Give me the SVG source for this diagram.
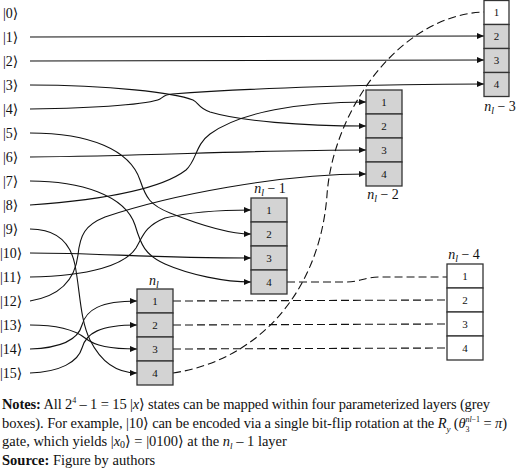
<svg xmlns="http://www.w3.org/2000/svg" width="520" height="472" viewBox="0 0 520 472">
<style>
.lbl{font-family:"Liberation Serif","DejaVu Serif",serif;font-size:14px;fill:#111}
.cell{stroke:#333;stroke-width:1.3}
.g{fill:#d3d3d3}
.w{fill:#fff}
.num{font-family:"Liberation Serif","DejaVu Serif",serif;font-size:11px;fill:#111;text-anchor:middle}
.ttl{font-family:"Liberation Serif","DejaVu Serif",serif;font-size:14px;fill:#111;text-anchor:middle}
.it{font-style:italic}
.c{fill:none;stroke:#111;stroke-width:1.1}
.a{marker-end:url(#arr)}
.d{fill:none;stroke:#111;stroke-width:1.1;stroke-dasharray:8 4}
.note{font-family:"Liberation Serif","DejaVu Serif",serif;font-size:14.5px;fill:#111}
.b{font-weight:bold}
</style>
<defs>
<marker id="arr" markerUnits="userSpaceOnUse" markerWidth="7" markerHeight="6" refX="7" refY="3" orient="auto">
<path d="M0,0 L7,3 L0,6 z" fill="#111"/>
</marker>
</defs>
<rect width="520" height="472" fill="#fff"/>
<g id="labels">
<text class="lbl" x="3" y="18">|0⟩</text>
<text class="lbl" x="3" y="42">|1⟩</text>
<text class="lbl" x="3" y="66">|2⟩</text>
<text class="lbl" x="3" y="90">|3⟩</text>
<text class="lbl" x="3" y="114">|4⟩</text>
<text class="lbl" x="3" y="138">|5⟩</text>
<text class="lbl" x="3" y="162">|6⟩</text>
<text class="lbl" x="3" y="186">|7⟩</text>
<text class="lbl" x="3" y="210">|8⟩</text>
<text class="lbl" x="3" y="234">|9⟩</text>
<text class="lbl" x="0" y="258">|10⟩</text>
<text class="lbl" x="0" y="282">|11⟩</text>
<text class="lbl" x="0" y="306">|12⟩</text>
<text class="lbl" x="0" y="330">|13⟩</text>
<text class="lbl" x="0" y="354">|14⟩</text>
<text class="lbl" x="0" y="378">|15⟩</text>
</g>
<g id="connectors">
<path class="c a" d="M30,37 L484,36"/>
<path class="c a" d="M30,61 L484,60"/>
<path class="c a" d="M30,85 C110,85 175,93 193,100 C199,103 198,108 210,112 C240,121 300,126 366,126"/>
<path class="c a" d="M30,109 C100,108 150,104 160,99 C164,97 163,95 172,94 C250,88 380,84 484,84"/>
<path class="c a" d="M30,133 C90,133 130,150 140,180 C146,198 150,205 170,213 C200,225 230,234 251,234"/>
<path class="c a" d="M30,157 C150,156 250,150 366,150"/>
<path class="c a" d="M30,181 C80,181 125,195 135,225 C141,245 145,255 165,264 C190,275 225,282 251,282"/>
<path class="c a" d="M30,205 C100,200 160,190 186,170 C197,160 195,145 210,134 C240,112 300,102 366,102"/>
<path class="c a" d="M30,229 C55,229 70,240 75,265 C80,290 80,320 90,340 C100,360 115,373 137,373"/>
<path class="c a" d="M30,253 C100,253 150,258 251,258"/>
<path class="c a" d="M30,277 C90,276 125,265 136,248 C143,236 145,226 165,218 C190,212 220,210 251,210"/>
<path class="c a" d="M30,301 C60,296 75,280 78,255 C80,235 85,225 105,217 C170,195 280,174 366,174"/>
<path class="c a" d="M30,325 C60,325 75,330 85,338 C95,346 110,349 137,349"/>
<path class="c a" d="M30,349 C60,348 78,340 82,325 C86,310 100,301 137,301"/>
<path class="c a" d="M30,373 C60,372 78,362 82,348 C86,333 100,325 137,325"/>
<path class="d" d="M173,301 L447,300"/>
<path class="d" d="M173,325 L447,324"/>
<path class="d" d="M173,349 L447,348"/>
<path class="d" d="M173,373 C260,360 320,290 327,195 C333,110 400,15 484,12"/>
<path class="d" d="M287,282 L345,282 C360,282 365,277 380,277 L447,277"/>
</g>
<g id="layer-nl-3">
<rect class="cell w" x="484" y="0.5" width="25" height="24"/>
<rect class="cell g" x="484" y="24.5" width="25" height="24"/>
<rect class="cell g" x="484" y="48.5" width="25" height="24"/>
<rect class="cell g" x="484" y="72.5" width="25" height="24"/>
<text class="num" x="496.5" y="16">1</text>
<text class="num" x="496.5" y="40">2</text>
<text class="num" x="496.5" y="64">3</text>
<text class="num" x="496.5" y="88">4</text>
<text class="ttl" x="500" y="111"><tspan class="it">n</tspan><tspan class="it" font-size="10" dy="3">l</tspan><tspan dy="-3"> − 3</tspan></text>
</g>
<g id="layer-nl-2">
<rect class="cell g" x="366" y="90" width="36" height="24"/>
<rect class="cell g" x="366" y="114" width="36" height="24"/>
<rect class="cell g" x="366" y="138" width="36" height="24"/>
<rect class="cell g" x="366" y="162" width="36" height="24"/>
<text class="num" x="384" y="106">1</text>
<text class="num" x="384" y="130">2</text>
<text class="num" x="384" y="154">3</text>
<text class="num" x="384" y="178">4</text>
<text class="ttl" x="383" y="199"><tspan class="it">n</tspan><tspan class="it" font-size="10" dy="3">l</tspan><tspan dy="-3"> − 2</tspan></text>
</g>
<g id="layer-nl-1">
<rect class="cell g" x="251" y="198" width="36" height="24"/>
<rect class="cell g" x="251" y="222" width="36" height="24"/>
<rect class="cell g" x="251" y="246" width="36" height="24"/>
<rect class="cell g" x="251" y="270" width="36" height="24"/>
<text class="num" x="269" y="214">1</text>
<text class="num" x="269" y="238">2</text>
<text class="num" x="269" y="262">3</text>
<text class="num" x="269" y="286">4</text>
<text class="ttl" x="270" y="193"><tspan class="it">n</tspan><tspan class="it" font-size="10" dy="3">l</tspan><tspan dy="-3"> − 1</tspan></text>
</g>
<g id="layer-nl">
<rect class="cell g" x="137" y="289" width="36" height="24"/>
<rect class="cell g" x="137" y="313" width="36" height="24"/>
<rect class="cell g" x="137" y="337" width="36" height="24"/>
<rect class="cell g" x="137" y="361" width="36" height="24"/>
<text class="num" x="155" y="305">1</text>
<text class="num" x="155" y="329">2</text>
<text class="num" x="155" y="353">3</text>
<text class="num" x="155" y="377">4</text>
<text class="ttl" x="154" y="285"><tspan class="it">n</tspan><tspan class="it" font-size="10" dy="3">l</tspan></text>
</g>
<g id="layer-nl-4">
<rect class="cell w" x="447" y="264" width="36" height="24"/>
<rect class="cell w" x="447" y="288" width="36" height="24"/>
<rect class="cell w" x="447" y="312" width="36" height="24"/>
<rect class="cell w" x="447" y="336" width="36" height="24"/>
<text class="num" x="465" y="280">1</text>
<text class="num" x="465" y="304">2</text>
<text class="num" x="465" y="328">3</text>
<text class="num" x="465" y="352">4</text>
<text class="ttl" x="464" y="259"><tspan class="it">n</tspan><tspan class="it" font-size="10" dy="3">l</tspan><tspan dy="-3"> − 4</tspan></text>
</g>
<g id="notes">
<text class="note" x="2" y="409" textLength="488" lengthAdjust="spacing"><tspan class="b">Notes:</tspan> All 2<tspan font-size="8" dy="-6">4</tspan><tspan dy="6"> – 1 = 15 |</tspan><tspan class="it">x</tspan>⟩ states can be mapped within four parameterized layers (grey</text>
<text class="note" x="2" y="428" textLength="505" lengthAdjust="spacing">boxes). For example, |10⟩ can be encoded via a single bit-flip rotation at the <tspan class="it">R</tspan><tspan class="it" font-size="9" dy="4">y</tspan><tspan dy="-4"> (</tspan><tspan class="it">θ</tspan><tspan font-size="8" dy="4">3</tspan><tspan class="it" font-size="8" dx="-4" dy="-10">nl</tspan><tspan font-size="8">−1</tspan><tspan dy="6"> = </tspan><tspan class="it">π</tspan>)</text>
<text class="note" x="2" y="446">gate, which yields |<tspan class="it">x</tspan><tspan font-size="10" dy="2">0</tspan><tspan dy="-2">⟩ = |0100⟩ at the </tspan><tspan class="it">n</tspan><tspan class="it" font-size="9" dy="3">l</tspan><tspan dy="-3"> – 1 layer</tspan></text>
<text class="note" x="2" y="465"><tspan class="b">Source:</tspan> Figure by authors</text>
</g>
</svg>
